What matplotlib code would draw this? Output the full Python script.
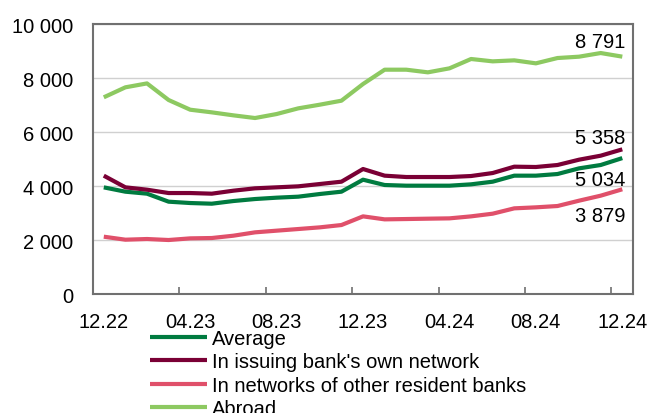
import numpy as np
import matplotlib.pyplot as plt
from matplotlib.ticker import FuncFormatter, FixedLocator

plt.rcParams['font.family'] = ['Liberation Sans', 'DejaVu Sans']

# months 12.22 .. 12.24
months = ['12.22', '01.23', '02.23', '03.23', '04.23', '05.23', '06.23', '07.23',
          '08.23', '09.23', '10.23', '11.23', '12.23', '01.24', '02.24', '03.24',
          '04.24', '05.24', '06.24', '07.24', '08.24', '09.24', '10.24', '11.24', '12.24']

average = [3950, 3790, 3716, 3420, 3370, 3345, 3444, 3518, 3568, 3605, 3704, 3790, 4234,
           4037, 4012, 4012, 4012, 4062, 4160, 4383, 4383, 4444, 4654, 4778, 5034]
own_network = [4383, 3951, 3864, 3740, 3740, 3716, 3827, 3914, 3951, 3988, 4074, 4160, 4630,
               4383, 4333, 4333, 4333, 4370, 4481, 4716, 4704, 4778, 4975, 5123, 5358]
other_banks = [2123, 2012, 2037, 2000, 2061, 2074, 2160, 2284, 2346, 2407, 2469, 2555, 2876,
               2765, 2777, 2790, 2802, 2876, 2975, 3173, 3210, 3259, 3457, 3642, 3879]
abroad = [7285, 7655, 7800, 7185, 6826, 6728, 6617, 6518, 6666, 6876, 7012, 7160, 7778,
          8308, 8308, 8210, 8358, 8704, 8617, 8654, 8543, 8740, 8790, 8925, 8791]

labels = ['Average', "In issuing bank's own network",
          'In networks of other resident banks', 'Abroad']
colors = ['#007B40', '#7A0035', '#E0506A', '#8DC961']
series = [average, own_network, other_banks, abroad]

FS = 14.5

fig = plt.figure(figsize=(6.48, 4.14), dpi=100)
ax = fig.add_axes([0.1435, 0.2874, 0.8335, 0.6522])

x = np.arange(len(months))
for vals, lab, col in zip(series, labels, colors):
    ax.plot(x, vals, color=col, lw=3, label=lab, solid_capstyle='butt', zorder=3)

ax.set_xlim(-0.5, len(months) - 0.5)
ax.set_ylim(0, 10000)
ax.set_yticks(np.arange(0, 10001, 2000))
ax.yaxis.set_major_formatter(FuncFormatter(lambda v, p: f'{int(v):,}'.replace(',', ' ')))
ax.grid(axis='y', color='#D0D0D0', lw=1, zorder=0)
ax.set_axisbelow(True)

# labels at data points, ticks at category boundaries
ax.set_xticks(x[::4])
ax.set_xticklabels(months[::4])
ax.xaxis.set_minor_locator(FixedLocator(x[4::4] - 0.5))
ax.tick_params(axis='x', which='major', length=0, pad=13, labelsize=FS)
ax.tick_params(axis='x', which='minor', direction='in', length=5, width=1.2, color='#707070')
ax.tick_params(axis='y', length=0, pad=14, labelsize=FS)

for s in ax.spines.values():
    s.set_color('#707070')
    s.set_linewidth(1.5)

# end values (offset in points from the last point)
ends = [(average[-1], -15.5), (own_network[-1], 8.5), (other_banks[-1], -19), (abroad[-1], 11)]
for v, dy in ends:
    ax.annotate(f'{v:,}'.replace(',', ' '), xy=(x[-1], v), xytext=(2.5, dy),
                textcoords='offset points', ha='right', va='center', fontsize=FS)

fig.legend(loc='upper left', bbox_to_anchor=(0.2315, 0.203), frameon=False, fontsize=FS,
           handlelength=2.85, handletextpad=0.25, labelspacing=0.22, borderpad=0,
           borderaxespad=0)

fig.savefig('out.png', dpi=100)
